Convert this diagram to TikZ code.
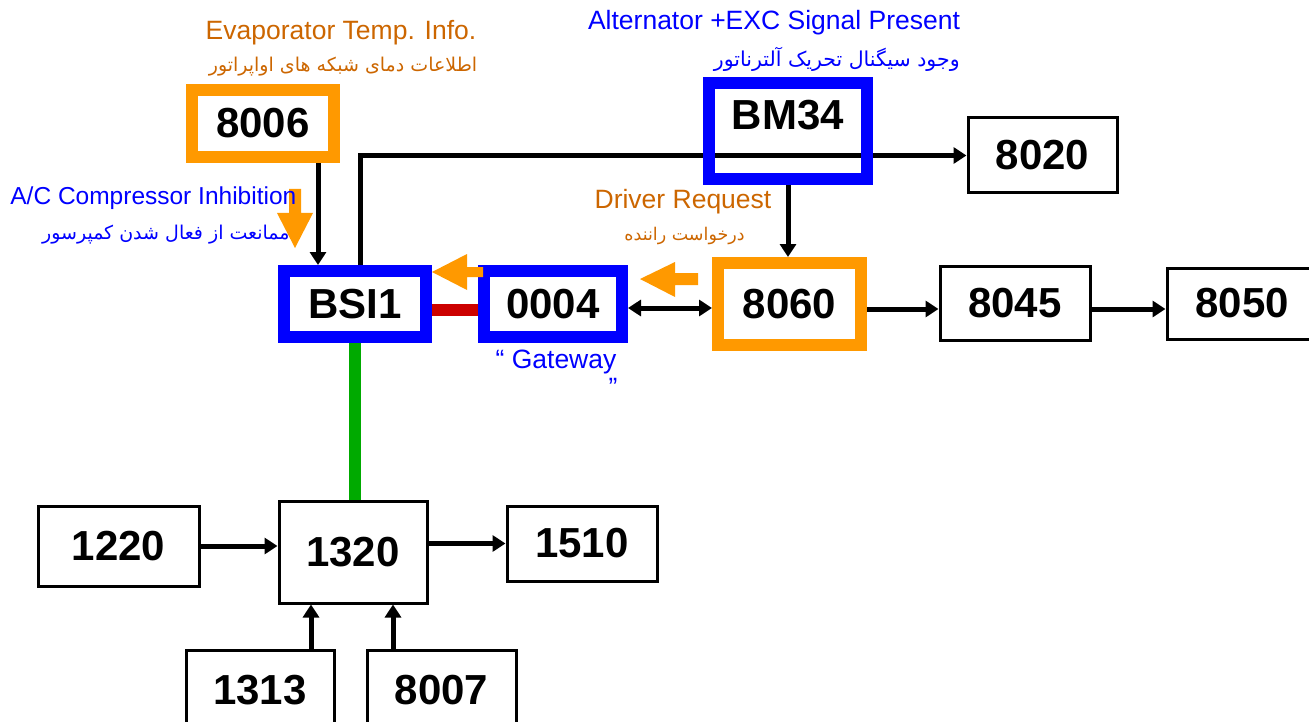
\documentclass[tikz,border=0pt]{standalone}
\usepackage{fontspec}
\setmainfont{Liberation Sans}
\newfontfamily\farsifont[Script=Arabic]{DejaVu Sans}
\TeXXeTstate=1
\usepackage{tikz}
\usetikzlibrary{arrows.meta,backgrounds}
\tikzset{every picture/.style={line width=0.75pt}}
\definecolor{boxorange}{RGB}{255,153,0}
\definecolor{textorange}{RGB}{204,102,0}
\definecolor{boxblue}{RGB}{0,0,255}
\definecolor{busred}{RGB}{204,0,0}
\definecolor{busgreen}{RGB}{0,170,0}
\tikzset{
  ecu/.style={draw, line width=3pt, inner sep=0pt, outer sep=1.5pt, font=\fontsize{42}{42}\selectfont\bfseries},
  ecuorange/.style={ecu, draw=boxorange, line width=12pt, outer sep=6pt},
  ecublue/.style={ecu, draw=boxblue, line width=12pt, outer sep=6pt},
  link/.style={line width=5pt, -{Triangle[length=13pt,width=16pt]}},
  bus/.style={line width=12pt},
  pointer/.style={fill=boxorange},
  entext/.style={font=\fontsize{26.5}{26.5}\selectfont, inner sep=0pt},
  fatext/.style={font=\farsifont\fontsize{19}{19}\selectfont, inner sep=0pt}
}

\begin{document}
\begin{tikzpicture}[x=1pt,y=-1pt]
\useasboundingbox (0,0) rectangle (1309,722);
\clip (0,0) rectangle (1309,722);

%Shape: Rectangle [top row]
\node[ecuorange, minimum width=142pt, minimum height=67pt] (n8006) at (263,123.5) {8006};
\node[ecublue, minimum width=158pt, minimum height=96pt, text depth=32pt] (bm34) at (788,131) {BM34};
\node[ecu, minimum width=149pt, minimum height=75pt] (n8020) at (1042.5,155.5) {8020};

%Shape: Rectangle [middle row]
\node[ecublue, minimum width=142pt, minimum height=66pt] (bsi) at (355,304) {BSI1};
\node[ecublue, minimum width=138pt, minimum height=66pt] (n0004) at (553,304) {0004};
\node[ecuorange, minimum width=143pt, minimum height=82pt] (n8060) at (789.5,304) {8060};
\node[ecu, minimum width=150pt, minimum height=74pt] (n8045) at (1015,303) {8045};
\node[ecu, minimum width=150pt, minimum height=71pt] (n8050) at (1242,303.5) {8050};

%Shape: Rectangle [lower rows]
\node[ecu, minimum width=161pt, minimum height=80pt] (n1220) at (118.5,546) {1220};
\node[ecu, minimum width=148pt, minimum height=102pt] (n1320) at (353,552) {1320};
\node[ecu, minimum width=150pt, minimum height=75pt] (n1510) at (582,543.5) {1510};
\node[ecu, minimum width=148pt, minimum height=80pt] (n1313) at (260,690) {1313};
\node[ecu, minimum width=149pt, minimum height=80pt] (n8007) at (441.5,690) {8007};

\begin{scope}[on background layer]
%Straight Lines
\draw[link] ([xshift=55pt]n8006.south) -- ([xshift=55pt]n8006.south |- bsi.north);
\draw[link] ([xshift=5pt]bsi.north) |- (n8020.west);
\draw[link] (bm34.south) -- (bm34.south |- n8060.north);
\draw[link, {Triangle[length=13pt,width=16pt]}-{Triangle[length=13pt,width=16pt]}] ([yshift=-4pt]n0004.east) -- ([yshift=-4pt]n0004.east -| n8060.west);
\draw[link] ([yshift=-5pt]n8060.east) -- ([yshift=-5pt]n8060.east -| n8045.west);
\draw[link] ([yshift=-6pt]n8045.east) -- ([yshift=-6pt]n8045.east -| n8050.west);
\draw[bus, busred] ([yshift=-5.5pt]bsi.east) -- ([yshift=-5.5pt]bsi.east -| n0004.west);
\draw[bus, busgreen] (bsi.south) -- (bsi.south |- n1320.north);
\draw[link] (n1220.east) -- (n1220.east -| n1320.west);
\draw[link] (n1510.west -| n1320.east) -- (n1510.west);
\draw[link] ([xshift=51pt]n1313.north) -- ([xshift=51pt]n1313.north |- n1320.south);
\draw[link] ([xshift=-48.5pt]n8007.north) -- ([xshift=-48.5pt]n8007.north |- n1320.south);
\end{scope}

%Shape: Arrow [orange pointers]
\fill[pointer] (295,248) -- (277,213) -- (289,213) -- (289,189) -- (301,189) -- (301,213) -- (313,213) -- cycle;
\fill[pointer] (432,272) -- (467,254) -- (467,267) -- (483,267) -- (483,277) -- (467,277) -- (467,290) -- cycle;
\fill[pointer] (640,279) -- (675,262) -- (675,273) -- (698,273) -- (698,285) -- (675,285) -- (675,297) -- cycle;

%Text
\node[entext, textorange] (evapen) at (341,33) {Evaporator Temp. Info.};
\node[fatext, textorange] (evapfa) at (343,67) {\beginR اطلاعات دمای شبکه های اواپراتور\endR};
\node[entext, boxblue] (altnen) at (774,23) {Alternator +EXC Signal Present};
\node[fatext, boxblue, anchor=east, font=\farsifont\fontsize{20.5}{20.5}\selectfont] (altfa) at (960,59) {\beginR وجود سیگنال تحریک آلترناتور\endR};
\node[entext, boxblue, anchor=west, font=\fontsize{24.5}{24.5}\selectfont] (acen) at (10,198) {A/C Compressor Inhibition};
\node[fatext, boxblue, anchor=east] (acfa) at (290,235) {\beginR ممانعت از فعال شدن کمپرسور\endR};
\node[entext, textorange] (drven) at (683,202) {Driver Request};
\node[fatext, textorange, anchor=east, font=\farsifont\fontsize{17.5}{17.5}\selectfont] (drvfa) at (745,236) {\beginR درخواست راننده\endR};
\node[entext, boxblue] (gatewaytxt) at (556,362) {“ Gateway};
\node[entext, boxblue] (gatewayend) at (613,387) {”};
\end{tikzpicture}
\end{document}
